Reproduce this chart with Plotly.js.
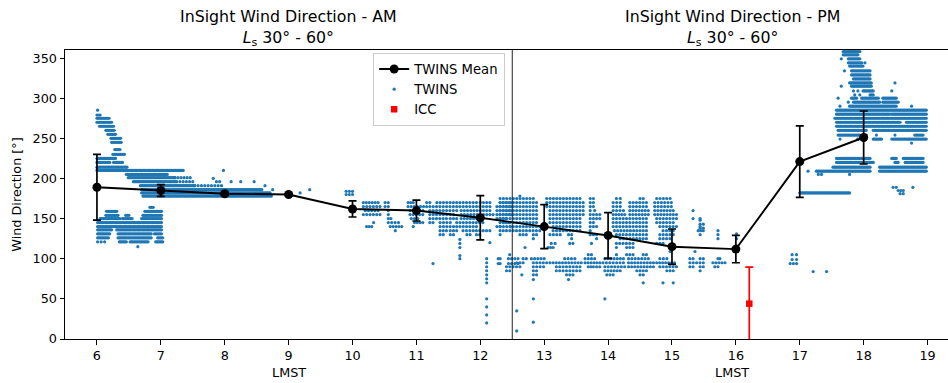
<!DOCTYPE html>
<html>
<head>
<meta charset="utf-8">
<script src="https://cdn.plot.ly/plotly-3.0.1.min.js"></script>
<style>html,body{margin:0;padding:0;background:#fff;}#chart{width:948px;height:383px;}</style>
</head>
<body>
<div id="chart"></div>
<script>
// ---- TWINS mean per LMST hour ----
const meanLMST = [6, 7, 8, 9, 10, 11, 12, 13, 14, 15, 16, 17, 18];
const meanDir  = [189, 185, 181, 180, 162, 160, 151, 140, 129, 115, 112, 221, 251];
const meanErr  = [41, 7.3, 2, 1, 10, 13, 27.5, 27.5, 28.5, 22, 17, 44.5, 33];

// ---- ICC ----
const iccLMST = [16.21];
const iccDir  = [44];
const iccErr  = [45.5];

// ---- TWINS samples, read as rows: [direction, first LMST, last LMST] ----
// dense rows: samples nearly every minute (~0.02 h)
const twinsDenseRows = [
  [285,6.01,6.01],[279,6.0,6.05],[275,6.0,6.19],[270,6.0,6.23],[265,6.04,6.26],[260,6.14,6.27],
  [255,6.17,6.29],[250,6.22,6.37],[245,6.23,6.38],[236,6.28,6.36],[230,6.25,6.43],[225,6.0,6.29],
  [220,6.0,6.2],[220,6.26,6.4],[214,6.0,6.47],[210,6.0,7.35],[205,6.46,7.1],[201,6.49,7.22],
  [196,6.57,7.25],[191,6.68,7.53],[186,6.7,8.58],[182,6.7,8.71],[178,6.72,8.73],
  [164,6.83,6.88],[159,6.15,6.31],[159,6.75,7.01],[154,6.14,6.33],[154,6.45,6.5],[154,6.72,7.01],
  [150,6.05,6.36],[150,6.4,6.55],[150,6.7,7.01],[145,6.01,7.01],[140,6.01,7.01],
  [136,6.01,6.23],[136,6.31,7.01],[131,6.01,6.2],[131,6.33,6.85],[131,6.9,7.01],
  [126,6.01,6.18],[126,6.33,6.85],[126,6.95,7.03],[121,6.35,6.46],[121,6.52,6.8],[121,6.92,7.03],
  [358,17.68,17.94],[354,17.68,17.91],[349,17.76,17.94],[344,17.76,17.97],[340,17.78,17.99],
  [334,17.81,18.1],[329,17.81,18.1],[324,17.84,18.1],[319,17.78,18.12],[315,17.81,18.12],
  [309,17.99,18.15],[304,18.1,18.15],[300,17.81,17.89],[300,17.97,18.23],[300,18.3,18.51],
  [295,17.84,18.25],[295,18.3,18.54],[290,17.78,18.51],[285,17.575,18.98],[280,17.575,18.41],
  [280,18.44,18.98],[275,17.55,18.98],[270,17.575,18.57],[270,18.67,18.98],[265,17.575,18.98],
  [260,17.6,18.04],[260,18.15,18.98],[254,17.6,17.94],[254,18.8,18.93],[249,18.15,18.28],
  [249,18.44,18.98],[225,17.575,18.1],[225,18.44,18.51],[225,18.62,18.93],[220,17.575,18.15],
  [220,18.49,18.54],[220,18.65,18.93],[214,17.52,18.1],[214,18.25,18.98],[209,17.26,18.1],
  [209,18.25,18.98],[182,17.0,17.78]
];
// sparse rows: samples every few minutes (~0.05 h)
const twinsSparseRows = [
  [121,6.01,6.12],[201,7.22,7.46],[196,7.3,7.5],[191,7.53,7.95],[184,9.9,10.0],[180,9.9,10.0],
  [170,10.17,10.4],[170,10.51,10.56],[170,10.87,10.95],[170,11.16,11.21],[170,11.32,11.63],[170,11.68,11.94],[170,12.0,12.15],[170,12.31,12.5],
  [165,10.17,10.43],[165,10.51,10.56],[165,10.87,11.16],[165,11.21,11.63],[165,11.68,12.15],[165,12.26,12.5],
  [160,10.2,10.4],[160,10.56,10.56],[160,10.9,11.1],[160,11.21,11.63],[160,11.7,12.15],[160,12.26,12.5],
  [155,10.17,10.43],[155,10.56,10.56],[155,10.9,11.1],[155,11.21,11.58],[155,11.7,12.2],[155,12.26,12.5],
  [150,10.56,10.6],[150,10.92,11.02],[150,11.21,11.47],[150,11.53,11.63],[150,11.7,12.04],[150,12.26,12.4],
  [145,10.33,10.33],[145,10.56,10.72],[145,10.97,11.1],[145,11.21,11.26],[145,11.37,11.53],[145,11.63,12.04],[145,12.36,12.45],
  [140,10.22,10.3],[140,10.59,10.77],[140,10.95,10.95],[140,11.37,11.58],[140,11.63,11.94],[140,12.26,12.31],[140,12.47,12.47],
  [135,10.67,10.67],[135,11.37,11.47],[135,11.53,11.63],[135,11.73,11.89],[135,11.94,12.15],[135,12.31,12.36],
  [130,11.37,11.42],[130,11.53,11.58],[130,11.79,11.84],[130,11.94,11.99],[130,12.31,12.31],
  [100,12.28,12.31],[100,12.44,12.59],[94,12.28,12.31],[94,12.44,12.59],
  [175,12.31,12.83],[175,13.04,13.56],[175,13.72,13.77],[175,14.13,14.19],[175,14.5,14.55],[175,14.76,14.97],
  [170,12.31,12.88],[170,13.04,13.61],[170,13.72,13.77],[170,14.08,14.19],[170,14.34,14.6],[170,14.73,14.99],
  [165,12.31,12.88],[165,13.04,13.61],[165,13.72,13.77],[165,14.08,14.19],[165,14.34,14.6],[165,14.73,14.99],
  [160,12.31,12.88],[160,13.09,13.61],[160,13.72,13.79],[160,14.08,14.24],[160,14.34,14.63],[160,14.73,15.02],[160,15.33,15.33],
  [155,12.31,12.88],[155,13.09,13.61],[155,13.72,13.87],[155,14.08,14.26],[155,14.34,14.63],[155,14.73,15.07],
  [150,12.31,12.88],[150,13.09,13.56],[150,13.72,13.87],[150,14.08,14.6],[150,14.76,15.07],[150,15.33,15.33],[150,15.44,15.44],
  [145,12.31,12.88],[145,13.09,13.56],[145,13.72,13.77],[145,14.08,14.6],[145,14.76,15.02],
  [140,12.31,12.93],[140,13.14,13.56],[140,13.72,13.82],[140,14.08,14.6],[140,14.81,15.07],[140,15.44,15.44],
  [135,12.41,12.93],[135,13.14,13.56],[135,13.72,13.72],[135,14.1,14.6],[135,14.86,15.02],[135,15.41,15.49],[135,15.72,15.72],
  [130,12.62,12.72],[130,12.83,12.88],[130,13.09,13.25],[130,13.38,13.43],[130,13.72,13.82],[130,14.13,14.6],[130,14.81,15.02],[130,15.44,15.44],[130,15.72,15.72],
  [125,12.83,12.85],[125,13.43,13.43],[125,13.82,13.82],[125,14.19,14.6],[125,14.81,14.97],[125,15.72,15.72],
  [119,13.11,13.17],[119,13.4,13.45],[119,13.74,13.74],[119,14.13,14.39],[119,14.76,14.86],
  [114,12.7,12.7],[114,13.06,13.14],[114,14.13,14.13],[114,14.29,14.39],
  [105,12.46,12.48],[105,13.69,13.74],[105,14.13,14.13],[105,14.29,14.39],[105,14.55,14.6],
  [100,12.67,12.72],[100,12.8,13.0],[100,13.32,13.48],[100,13.64,13.79],[100,13.95,14.24],[100,14.32,14.63],[100,14.81,14.92],[100,15.28,15.33],[100,15.44,15.49],[100,15.72,15.75],
  [95,12.57,12.67],[95,12.83,13.09],[95,13.14,13.58],[95,13.64,13.87],[95,13.92,14.24],[95,14.32,14.71],[95,14.76,15.04],[95,15.28,15.49],[95,15.64,15.83],
  [90,12.41,12.62],[90,12.83,12.99],[90,13.19,13.56],[90,13.69,13.77],[90,13.82,13.87],[90,13.95,14.26],[90,14.32,14.71],[90,14.81,15.07],[90,15.28,15.33],[90,15.44,15.49],[90,15.67,15.72],
  [85,12.41,12.46],[85,12.83,12.88],[85,13.19,13.56],[85,13.95,14.19],[85,14.45,14.6],[85,14.92,15.02],[85,15.44,15.44],
  [80,12.83,12.88],[80,13.35,13.45],[80,13.98,14.08],[80,14.5,14.55],
  [148,15.44,15.44],[143,15.44,15.49],[138,15.44,15.49],[131,16.01,16.01],[125,16.01,16.01],
  [189,18.46,18.51],[185,18.54,18.62],[181,18.57,18.62],
  [105,16.88,16.95],[99,16.88,16.95],[94,16.85,16.95],[84,17.21,17.21],[84,17.42,17.42]
];
// isolated samples
const twinsPointLMST = [6.64, 7.98, 7.82, 7.87, 7.92, 8.1, 8.25, 8.46, 8.63, 8.75, 9.18, 9.33,
  11.26, 11.68, 11.68, 11.68, 11.68, 11.68, 12.1, 12.1, 12.1, 12.1, 12.1, 12.1, 12.1, 12.1, 12.1, 12.1, 12.1, 12.15,
  12.57, 12.57, 12.83, 12.83, 13.95, 12.65, 12.83, 13.38, 14.55, 14.86, 15.02, 14.97, 15.36, 12.62,
  17.13, 17.29, 17.34, 17.78, 17.65, 17.7, 17.65, 17.84, 17.91, 17.86, 17.94, 17.6, 17.76, 17.63, 18.75,
  18.44, 18.49, 18.02, 17.91, 18.04, 18.2, 18.49, 17.63, 17.91, 18.75, 18.77];
const twinsPointDir = [115, 210, 200, 196, 196, 196, 196, 196, 191, 186, 182, 186,
  94, 124, 119, 114, 104, 100, 100, 95, 90, 85, 80, 75, 70, 50, 40, 30, 20, 120,
  35, 10, 50, 21, 50, 80, 74, 74, 70, 70, 70, 109, 109, 178,
  209, 205, 205, 205, 349, 334, 315, 309, 309, 304, 304, 300, 295, 290, 290,
  309, 319, 344, 249, 254, 254, 254, 249, 249, 244, 189];

const denseStep = 0.02, sparseStep = 0.05;
function expandRows(rows, step, xs, ys) {
  rows.forEach(function (r) {
    const y = r[0], a = r[1], b = r[2];
    const n = Math.max(1, Math.round((b - a) / step) + 1);
    for (let i = 0; i < n; i++) {
      xs.push(n === 1 ? a : a + (b - a) * i / (n - 1));
      ys.push(y);
    }
  });
}
const twX = [], twY = [];
expandRows(twinsDenseRows, denseStep, twX, twY);
expandRows(twinsSparseRows, sparseStep, twX, twY);
twinsPointLMST.forEach(function (x, i) { twX.push(x); twY.push(twinsPointDir[i]); });

const FONT = "DejaVu Sans, Verdana, sans-serif";
const traces = [
  {
    type: 'scatter', mode: 'markers', name: 'TWINS', x: twX, y: twY,
    marker: {color: '#1f77b4', size: 3.2, line: {width: 0}}, legendrank: 2, hoverinfo: 'skip'
  },
  {
    type: 'scatter', mode: 'lines+markers', name: 'TWINS Mean', x: meanLMST, y: meanDir,
    line: {color: '#000', width: 1.9},
    marker: {color: '#000', size: 9},
    error_y: {type: 'data', array: meanErr, visible: true, color: '#000', thickness: 1.7, width: 4},
    legendrank: 1
  },
  {
    type: 'scatter', mode: 'markers', name: 'ICC', x: iccLMST, y: iccDir,
    marker: {color: '#ff0000', size: 6.5, symbol: 'square'},
    error_y: {type: 'data', array: iccErr, visible: true, color: '#ff0000', thickness: 1.7, width: 4},
    legendrank: 3
  }
];

const axisCommon = {
  showgrid: false, zeroline: false, showline: true, linecolor: '#000', linewidth: 1,
  ticks: 'outside', ticklen: 4.5, tickwidth: 1, tickcolor: '#000',
  tickfont: {family: FONT, size: 12.8, color: '#000'}
};

const layout = {
  width: 948, height: 383,
  margin: {l: 65, r: 0, t: 50, b: 44, pad: 0},
  paper_bgcolor: '#fff', plot_bgcolor: '#fff',
  font: {family: FONT, color: '#000'},
  showlegend: true,
  legend: {
    x: 0.349, y: 0.99, xanchor: 'left', yanchor: 'top',
    bgcolor: 'rgba(255,255,255,0.85)', bordercolor: '#cccccc', borderwidth: 1,
    font: {family: FONT, size: 13.2, color: '#000'}
  },
  xaxis: Object.assign({}, axisCommon, {range: [5.5, 19.32], tick0: 6, dtick: 1, mirror: true}),
  yaxis: Object.assign({}, axisCommon, {
    range: [0, 360], tick0: 0, dtick: 50, mirror: false,
    title: {text: 'Wind Direction [°]', font: {family: FONT, size: 12.8, color: '#000'}, standoff: 8}
  }),
  shapes: [{type: 'line', xref: 'x', yref: 'paper', x0: 12.5, x1: 12.5, y0: 0, y1: 1,
            line: {color: '#222', width: 1}, layer: 'above'}],
  annotations: [
    {xref: 'x', yref: 'paper', x: 9.0, y: 1.076, yanchor: 'middle', showarrow: false,
     text: 'InSight Wind Direction - AM<br><i>L</i><sub>s</sub> 30° - 60°', font: {family: FONT, size: 15.8, color: '#000'}},
    {xref: 'x', yref: 'paper', x: 15.94, y: 1.076, yanchor: 'middle', showarrow: false,
     text: 'InSight Wind Direction - PM<br><i>L</i><sub>s</sub> 30° - 60°', font: {family: FONT, size: 15.8, color: '#000'}},
    {xref: 'x', yref: 'paper', x: 9.0, y: -0.1176, yanchor: 'middle', showarrow: false,
     text: 'LMST', font: {family: FONT, size: 12.8, color: '#000'}},
    {xref: 'x', yref: 'paper', x: 15.94, y: -0.1176, yanchor: 'middle', showarrow: false,
     text: 'LMST', font: {family: FONT, size: 12.8, color: '#000'}}
  ]
};

Plotly.newPlot('chart', traces, layout, {displayModeBar: false, staticPlot: true});
</script>
</body>
</html>
